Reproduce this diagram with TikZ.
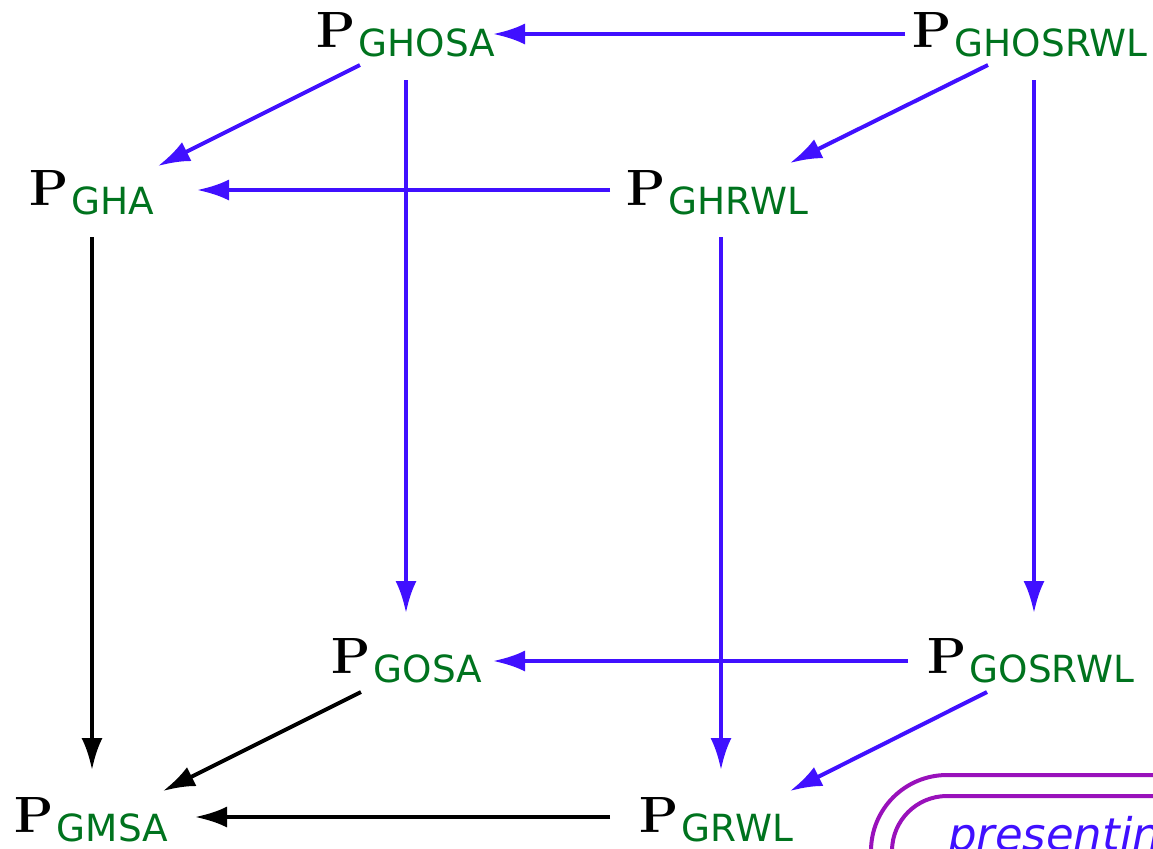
\documentclass[tikz,border=0pt]{standalone}
\usepackage{fontspec}
\newfontfamily\subf{DejaVu Sans}
\usetikzlibrary{arrows.meta,calc}
\definecolor{arr}{RGB}{64,16,255}
\definecolor{subg}{RGB}{0,115,30}
\definecolor{boxp}{RGB}{153,17,187}
\newcommand{\PPlab}[1]{{\fontsize{25.5pt}{30pt}\selectfont\bfseries P}\kern1.8pt\raisebox{-4.5pt}{\fontsize{18.7pt}{21pt}\subf\color{subg}#1}}
\begin{document}
\begin{tikzpicture}[x=0.5pt,y=-0.5pt,
  lab/.style={anchor=base west, inner sep=0pt, outer sep=0pt},
  ar/.style={draw=arr, line width=2pt, -{Latex[length=16pt,width=10.5pt]}},
  ark/.style={ar, draw=black},
  boxline/.style={draw=boxp, line width=2pt}]
\useasboundingbox (0,0) rectangle (1153,848);
\clip (0,0) rectangle (1153,848);
% nodes
\node[lab] (ghosa)   at (316,47)  {\PPlab{GHOSA}};
\node[lab] (ghosrwl) at (912,47)  {\PPlab{GHOSRWL}};
\node[lab] (gha)     at (29,205)  {\PPlab{GHA}};
\node[lab] (ghrwl)   at (626,205) {\PPlab{GHRWL}};
\node[lab] (gosa)    at (331,673) {\PPlab{GOSA}};
\node[lab] (gosrwl)  at (927,673) {\PPlab{GOSRWL}};
\node[lab] (gmsa)    at (14,832)  {\PPlab{GMSA}};
\node[lab] (grwl)    at (639,832) {\PPlab{GRWL}};
% horizontal
\draw[ar]  ($(ghosrwl.base west)+(-7,-13)$) -- ($(ghosa.base west)+(177,-13)$);
\draw[ar]  ($(ghrwl.base west)+(-16,-15)$) -- ($(gha.base west)+(168,-15)$);
\draw[ar]  ($(gosrwl.base west)+(-19,-12)$) -- ($(gosa.base west)+(162,-12)$);
\draw[ark] ($(grwl.base west)+(-29,-15)$) -- ($(gmsa.base west)+(181,-15)$);
% vertical
\draw[ar]  ($(ghosa.base west)+(90,33)$) -- ($(gosa.base west)+(75,-60)$);
\draw[ar]  ($(ghosrwl.base west)+(122,33)$) -- ($(gosrwl.base west)+(107,-60)$);
\draw[ar]  ($(ghrwl.base west)+(95,32)$) -- ($(grwl.base west)+(82,-62)$);
\draw[ark] ($(gha.base west)+(63,32)$) -- ($(gmsa.base west)+(78,-62)$);
% diagonal
\draw[ar]  ($(ghosa.base west)+(44,18)$) -- ($(gha.base west)+(129,-39)$);
\draw[ar]  ($(ghosrwl.base west)+(76,18)$) -- ($(ghrwl.base west)+(164,-42)$);
\draw[ark] ($(gosa.base west)+(30,19)$) -- ($(gmsa.base west)+(149,-41)$);
\draw[ar]  ($(gosrwl.base west)+(60,19)$) -- ($(grwl.base west)+(151,-41)$);
% partial box bottom right
\draw[boxline, rounded corners=38pt] (871,1000) -- (871,775) -- (1300,775);
\draw[boxline, rounded corners=27.5pt] (892,1000) -- (892,796) -- (1300,796);
\node[lab] (pres) at (948,850) {\fontsize{22.5pt}{26pt}\subf\itshape\color{arr}presentin};
\end{tikzpicture}
\end{document}
